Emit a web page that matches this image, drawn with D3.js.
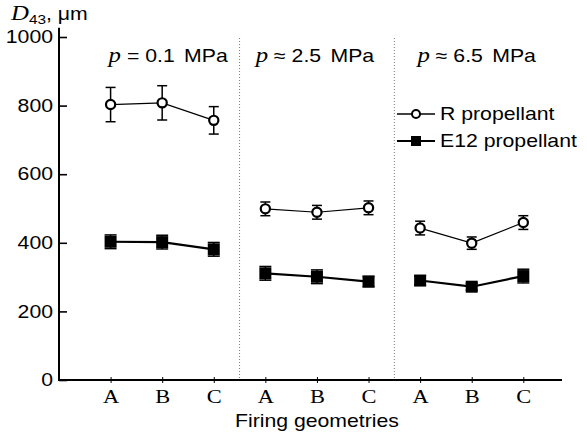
<!DOCTYPE html>
<html>
<head>
<meta charset="utf-8">
<script src="https://cdn.jsdelivr.net/npm/d3@7"></script>
<style>body { margin: 0; background: #fff; }</style>
</head>
<body>
<svg id="chart" width="587" height="434"></svg>
<script>
var categories = ["A", "B", "C"];
var pressures = ["= 0.1", "\u2248 2.5", "\u2248 6.5"];
var rMean = [803, 808, 757, 499, 489, 502, 443, 399, 459];
var rErr = [50, 50, 40, 20, 20, 20, 20, 18, 20];
var eMean = [403, 402, 381, 311, 301, 287, 290, 272, 303];
var eErr = [20, 20, 20, 20, 20, 15, 14, 10, 20];
var yTicks = [0, 200, 400, 600, 800, 1000];
var seriesNames = ["R propellant", "E12 propellant"];

var svg = d3.select("#chart");
var sans = "'Liberation Sans', Arial, sans-serif";
var serif = "'Liberation Serif', 'Times New Roman', serif";
var SX = 1.18; // the scanned text is wider than the font

var x = d3.scaleLinear().domain([-1, 8.75]).range([59, 562]);
var y = d3.scaleLinear().domain([0, 1000]).range([380, 37]);

function stretch(sel) {
    sel.each(function () {
        var t = d3.select(this);
        var tx = +t.attr("x") || 0, ty = +t.attr("y") || 0;
        t.attr("x", null).attr("y", null)
            .attr("transform", "translate(" + tx + "," + ty + ") scale(" + SX + ",1)");
    });
}

// dotted dividers between pressure groups
[2.5, 5.5].forEach(function (d) {
    svg.append("line").attr("x1", x(d)).attr("x2", x(d)).attr("y1", 38).attr("y2", y(0))
        .attr("stroke", "#777").attr("stroke-width", 1).attr("stroke-dasharray", "1,2");
});

// y axis
var yAxis = svg.append("g").attr("transform", "translate(" + x(-1) + ",0)")
    .call(d3.axisLeft(y).tickValues(yTicks).tickFormat(d3.format("d"))
        .tickSizeInner(-8).tickSizeOuter(0).tickPadding(6));
yAxis.select(".domain").remove();
yAxis.selectAll(".tick line").attr("stroke", "#000").attr("stroke-width", 1.6);
yAxis.selectAll(".tick text").attr("font-family", sans).attr("font-size", 18).attr("fill", "#000").call(stretch);

// x axis
var xAxis = svg.append("g").attr("transform", "translate(0," + y(0) + ")")
    .call(d3.axisBottom(x).tickValues(d3.range(9)).tickFormat(function (i) { return categories[i % 3]; })
        .tickSizeInner(3).tickSizeOuter(0).tickPadding(6));
xAxis.select(".domain").remove();
xAxis.selectAll(".tick line").attr("y1", -3).attr("y2", 3).attr("stroke", "#000").attr("stroke-width", 1);
xAxis.selectAll(".tick text").attr("font-family", serif).attr("font-size", 19).attr("fill", "#000").call(stretch);

svg.append("line").attr("x1", x(-1)).attr("x2", x(-1)).attr("y1", y(0) + 1).attr("y2", y(1027))
    .attr("stroke", "#000").attr("stroke-width", 2);
svg.append("line").attr("x1", x(-1) - 1).attr("x2", x(8.75)).attr("y1", y(0)).attr("y2", y(0))
    .attr("stroke", "#000").attr("stroke-width", 2);

// axis titles
var yl = svg.append("text").attr("x", 11).attr("y", 20).attr("fill", "#000");
yl.append("tspan").attr("font-family", serif).attr("font-style", "italic").attr("font-size", 21).text("D");
yl.append("tspan").attr("font-family", sans).attr("font-size", 13).attr("dy", 4).text("43");
yl.append("tspan").attr("font-family", sans).attr("font-size", 18).attr("dy", -4).text(", \u03bcm");
yl.call(stretch);

svg.append("text").attr("x", (x(0) + x(8)) / 2).attr("y", 427).attr("text-anchor", "middle")
    .attr("font-family", sans).attr("font-size", 18).attr("fill", "#000")
    .text("Firing geometries").call(stretch);

// pressure titles
var titleOffset = [6, -2, 5];
pressures.forEach(function (p, g) {
    var t = svg.append("text").attr("x", x(g * 3 + 1) + titleOffset[g]).attr("y", 62)
        .attr("text-anchor", "middle").attr("fill", "#000");
    t.append("tspan").attr("font-family", serif).attr("font-style", "italic").attr("font-size", 21).text("p");
    t.append("tspan").attr("font-family", sans).attr("font-size", 18).text(" " + p);
    t.append("tspan").attr("font-family", sans).attr("font-size", 18).attr("dx", 8).text("MPa");
    t.call(stretch);
});

// series
function drawSeries(mean, err, lineWidth, capHalf, kind) {
    var line = d3.line().x(function (d) { return x(d); }).y(function (d) { return y(mean[d]); });
    for (var g = 0; g < 3; g++) {
        svg.append("path").datum([g * 3, g * 3 + 1, g * 3 + 2]).attr("d", line)
            .attr("fill", "none").attr("stroke", "#000").attr("stroke-width", lineWidth);
    }
    for (var i = 0; i < mean.length; i++) {
        var cx = x(i), top = y(mean[i] + err[i]), bot = y(mean[i] - err[i]);
        svg.append("line").attr("x1", cx).attr("x2", cx).attr("y1", top).attr("y2", bot)
            .attr("stroke", "#000").attr("stroke-width", 1.5);
        [top, bot].forEach(function (cy) {
            svg.append("line").attr("x1", cx - capHalf).attr("x2", cx + capHalf).attr("y1", cy).attr("y2", cy)
                .attr("stroke", "#000").attr("stroke-width", 1.5);
        });
        if (kind == "circle") {
            svg.append("circle").attr("cx", cx).attr("cy", y(mean[i])).attr("r", 4.6)
                .attr("fill", "#fff").attr("stroke", "#000").attr("stroke-width", 2.2);
        } else {
            svg.append("rect").attr("x", cx - 6).attr("y", y(mean[i]) - 6).attr("width", 12).attr("height", 12)
                .attr("fill", "#000");
        }
    }
}
drawSeries(rMean, rErr, 1.2, 5, "circle");
drawSeries(eMean, eErr, 2.2, 6, "square");

// legend
var legendY = [114, 141];
seriesNames.forEach(function (name, k) {
    var ly = legendY[k];
    svg.append("line").attr("x1", 397).attr("x2", 435).attr("y1", ly).attr("y2", ly)
        .attr("stroke", "#000").attr("stroke-width", k == 0 ? 1.5 : 2.2);
    if (k == 0) {
        svg.append("circle").attr("cx", 416).attr("cy", ly).attr("r", 4)
            .attr("fill", "#fff").attr("stroke", "#000").attr("stroke-width", 2);
    } else {
        svg.append("rect").attr("x", 411).attr("y", ly - 5).attr("width", 10).attr("height", 10).attr("fill", "#000");
    }
    svg.append("text").attr("x", 440).attr("y", ly + 6).attr("font-family", sans).attr("font-size", 18)
        .attr("fill", "#000").text(name).call(stretch);
});
</script>
</body>
</html>
